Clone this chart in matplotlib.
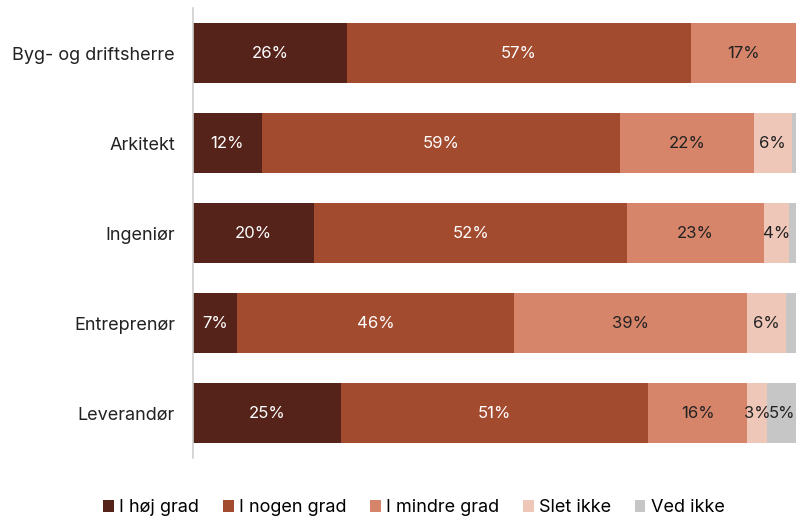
import matplotlib.pyplot as plt
import numpy as np

plt.rcParams['font.family'] = ['Inter', 'DejaVu Sans']

categories = ["Byg- og driftsherre", "Arkitekt", "Ingeniør", "Entreprenør", "Leverandør"]
series_names = ["I høj grad", "I nogen grad", "I mindre grad", "Slet ikke", "Ved ikke"]

hoj_grad = [25.5, 11.4, 20.1, 7.3, 24.5]
nogen_grad = [57.1, 59.4, 51.9, 45.9, 51.0]
mindre_grad = [17.4, 22.2, 22.7, 38.7, 16.4]
slet_ikke = [0.0, 6.3, 4.1, 6.4, 3.3]
ved_ikke = [0.0, 0.7, 1.2, 1.7, 4.8]

# tekst i segmenterne (tomt = ingen label)
labels = [
    ["26%", "12%", "20%", "7%", "25%"],
    ["57%", "59%", "52%", "46%", "51%"],
    ["17%", "22%", "23%", "39%", "16%"],
    ["", "6%", "4%", "6%", "3%"],
    ["", "", "", "", "5%"],
]

colors = ["#55231a", "#a34b2f", "#d6856a", "#efc7b9", "#c6c6c6"]
text_colors = ["white", "white", "#222222", "#222222", "#222222"]

series = [hoj_grad, nogen_grad, mindre_grad, slet_ikke, ved_ikke]

fig = plt.figure(figsize=(7.96, 5.18), dpi=100)
ax = fig.add_axes([193 / 796, 1 - 458 / 518, 1 - 193 / 796, 450 / 518])

y = np.arange(len(categories))
left = np.zeros(len(categories))
for i, vals in enumerate(series):
    vals = np.array(vals)
    ax.barh(y, vals, left=left, height=0.667, color=colors[i], label=series_names[i])
    for j in range(len(categories)):
        if labels[i][j]:
            ax.text(left[j] + vals[j] / 2, y[j], labels[i][j], ha="center", va="center",
                    color=text_colors[i], fontsize=12)
    left += vals

ax.set_xlim(0, 100)
ax.set_ylim(4.5, -0.5)
ax.set_yticks(y)
ax.set_yticklabels(categories, fontsize=13, color="#222222")
ax.set_xticks([])
ax.tick_params(axis="y", length=0, pad=13)
for s in ["top", "right", "bottom"]:
    ax.spines[s].set_visible(False)
ax.spines["left"].set_color("#d0d0d0")
ax.spines["left"].set_linewidth(1.2)

handles, lbls = ax.get_legend_handles_labels()
fig.legend(handles, lbls, loc="center", bbox_to_anchor=(0.52, 0.02), ncol=5, frameon=False,
           fontsize=13, handlelength=0.6, handleheight=0.6, handletextpad=0.3, columnspacing=1.3)

fig.savefig("out.png", dpi=100)
